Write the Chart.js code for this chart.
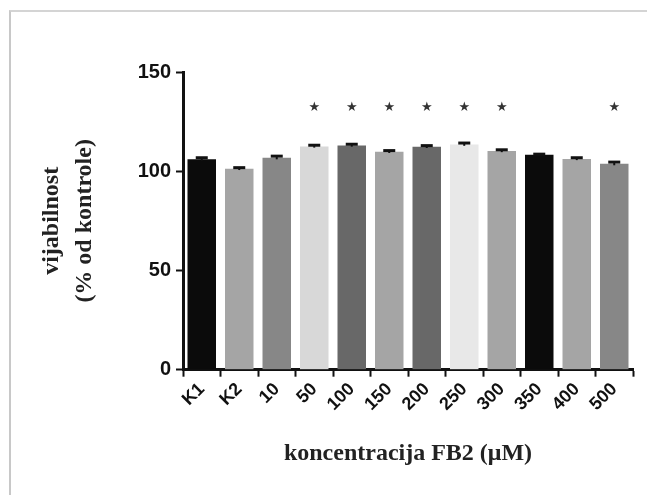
<!DOCTYPE html>
<html>
<head>
<meta charset="utf-8">
<script src="https://cdn.jsdelivr.net/npm/chart.js@4.4.0/dist/chart.umd.min.js"></script>
<style>
  html, body { margin: 0; padding: 0; background: #fff; }
  #wrap { position: relative; width: 647px; height: 495px; }
  #frame {
    position: absolute; left: 9px; top: 10px; right: 0; bottom: 0;
    border-top: 2px solid #d4d4d4; border-left: 2px solid #c8c8c8;
  }
  canvas { position: absolute; left: 0; top: 0; }
</style>
</head>
<body>
<div id="wrap">
  <div id="frame"></div>
  <canvas id="chart" width="647" height="495"></canvas>
</div>
<script>
// categories and values
const categories = ["K1", "K2", "10", "50", "100", "150", "200", "250", "300", "350", "400", "500"];
const viability = [106, 101.2, 106.8, 112.5, 113, 109.8, 112.3, 113.5, 110.2, 108.3, 106.2, 103.8];
const errors = [0.8, 0.6, 0.8, 0.6, 0.6, 0.6, 0.6, 0.7, 0.6, 0.3, 0.6, 0.8];
const significant = [false, false, false, true, true, true, true, true, true, false, false, true];
const barColors = ["#0b0b0b", "#a5a5a5", "#878787", "#d8d8d8", "#686868", "#a5a5a5",
                   "#686868", "#e8e8e8", "#a5a5a5", "#0b0b0b", "#a5a5a5", "#878787"];
const yTicks = [0, 50, 100, 150];
const starLevel = 132;

// error bar caps and significance stars
const extrasPlugin = {
  id: "extras",
  afterDatasetsDraw(chart) {
    const ctx = chart.ctx;
    const meta = chart.getDatasetMeta(0);
    const y = chart.scales.y;
    ctx.save();
    meta.data.forEach((bar, i) => {
      const x = bar.x;
      const top = y.getPixelForValue(viability[i] + errors[i]);
      const bottom = y.getPixelForValue(viability[i] - errors[i]);
      ctx.strokeStyle = "#111";
      ctx.lineWidth = 2;
      ctx.beginPath();
      ctx.moveTo(x, top);
      ctx.lineTo(x, bottom);
      ctx.stroke();
      ctx.lineWidth = 3;
      ctx.beginPath();
      ctx.moveTo(x - 6, top);
      ctx.lineTo(x + 6, top);
      ctx.stroke();
      if (significant[i]) {
        ctx.fillStyle = "#333";
        ctx.font = "13px 'DejaVu Sans'";
        ctx.textAlign = "center";
        ctx.textBaseline = "middle";
        ctx.fillText("\u2605", x, y.getPixelForValue(starLevel));
      }
    });
    ctx.restore();
  },
};

const ctx = document.getElementById("chart").getContext("2d");
new Chart(ctx, {
  type: "bar",
  data: {
    labels: categories,
    datasets: [
      {
        data: viability,
        backgroundColor: barColors,
        borderWidth: 0,
        barPercentage: 0.76,
        categoryPercentage: 1,
      },
    ],
  },
  options: {
    responsive: false,
    animation: false,
    layout: { padding: { left: 36, right: 14, top: 72, bottom: 23 } },
    plugins: {
      legend: { display: false },
      tooltip: { enabled: false },
    },
    scales: {
      x: {
        offset: true,
        grid: {
          display: true,
          drawOnChartArea: false,
          drawTicks: true,
          tickLength: 7,
          tickWidth: 2,
          tickColor: "#111",
        },
        border: { display: true, color: "#111", width: 3 },
        ticks: {
          color: "#111",
          maxRotation: 45,
          minRotation: 45,
          padding: 2,
          font: { family: "'Liberation Sans', Arial", size: 18, weight: "bold" },
        },
        title: {
          display: true,
          text: "koncentracija FB2 (\u03bcM)",
          color: "#222",
          padding: { top: 22 },
          font: { family: "'Liberation Serif', 'Times New Roman'", size: 24, weight: "bold" },
        },
      },
      y: {
        min: 0,
        max: 150,
        afterBuildTicks(scale) {
          scale.ticks = yTicks.map((v) => ({ value: v }));
        },
        afterFit(scale) {
          scale.width = 147;
        },
        grid: {
          display: true,
          drawOnChartArea: false,
          drawTicks: true,
          tickLength: 7,
          tickWidth: 2,
          tickColor: "#111",
        },
        border: { display: true, color: "#111", width: 3 },
        ticks: {
          color: "#111",
          padding: 5,
          font: { family: "'Liberation Sans', Arial", size: 20, weight: "bold" },
        },
        title: {
          display: true,
          text: ["vijabilnost", "(% od kontrole)"],
          color: "#222",
          padding: { top: 0, bottom: 0 },
          font: { family: "'Liberation Serif', 'Times New Roman'", size: 24, weight: "bold", lineHeight: 1.35 },
        },
      },
    },
  },
  plugins: [extrasPlugin],
});
</script>
</body>
</html>
